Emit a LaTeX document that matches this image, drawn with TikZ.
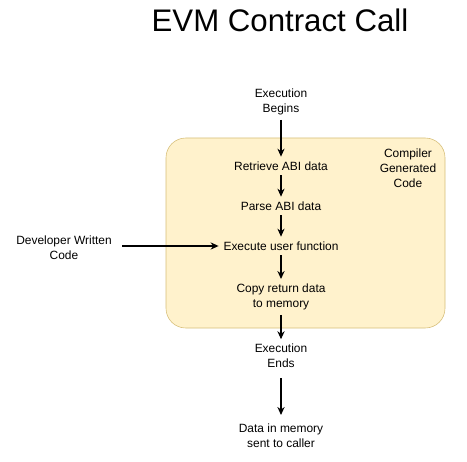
\documentclass[tikz,border=0pt]{standalone}
\usepackage{fontspec}
\setmainfont{Liberation Sans}
\usetikzlibrary{arrows.meta,positioning}
\definecolor{boxfill}{RGB}{255,242,204}
\definecolor{boxline}{RGB}{214,190,120}

\begin{document}
\begin{tikzpicture}[every node/.style={font=\fontsize{8.5}{10.6}\selectfont, align=center},
    flow/.style={-{Stealth[length=2mm,width=1.8mm]}, thick}]
    \useasboundingbox (0,0) rectangle (11.675,-11.525);

    \node (title) at (7.0,-0.5) {\fontsize{22.2}{26}\selectfont EVM Contract Call};

    \draw[boxline, fill=boxfill, rounded corners=14pt] (4.15,-3.45) rectangle (11.125,-8.2);
    \node (compiler) at (10.2,-4.2) {Compiler\\Generated\\Code};

    \node (begins) at (7.025,-2.55) {Execution\\Begins};
    \node (retrieve) at (7.025,-4.15) {Retrieve ABI data};
    \node (parse) at (7.025,-5.15) {Parse ABI data};
    \node (execute) at (7.025,-6.15) {Execute user function};
    \node (developer) at (1.6,-6.2) {Developer Written\\Code};
    \node (copy) at (7.025,-7.425) {Copy return data\\to memory};
    \node (ends) at (7.025,-8.9) {Execution\\Ends};
    \node (data) at (7.025,-10.9) {Data in memory\\sent to caller};

    \draw[flow] (begins) -- (retrieve);
    \draw[flow] (retrieve) -- (parse);
    \draw[flow] (parse) -- (execute);
    \draw[flow] ([xshift=4pt]developer.east |- execute) -- (execute);
    \draw[flow] (execute) -- (copy);
    \draw[flow] (copy) -- (ends);
    \draw[flow] ([yshift=-4pt]ends.south) -- ([yshift=3pt]data.north);
\end{tikzpicture}
\end{document}
